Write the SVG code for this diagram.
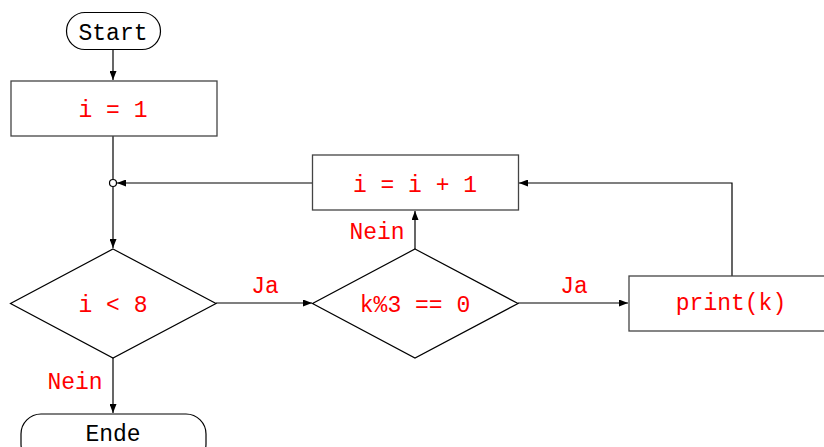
<svg xmlns="http://www.w3.org/2000/svg" width="824" height="447" viewBox="0 0 824 447">
<style>
.s{fill:#fff;stroke:#000;stroke-width:1.2}
.b{fill:#fff;stroke:#444;stroke-width:1.3}
.t{font-family:"Liberation Mono","DejaVu Sans Mono",monospace;font-size:23px;text-anchor:middle}
.r{fill:#ff0000}
.k{fill:#000}
.c{fill:none;stroke:#000;stroke-width:1.2}
</style>
<defs>
<marker id="ah" markerWidth="9" markerHeight="7" refX="9" refY="3.5" orient="auto" markerUnits="userSpaceOnUse">
<path d="M0,0 L9,3.5 L0,7 Z" fill="#000"/>
</marker>
</defs>
<g id="connectors">
<path class="c" d="M113,50 V80" marker-end="url(#ah)"/>
<path class="c" d="M113,136 V179"/>
<path class="c" d="M113,187 V248" marker-end="url(#ah)"/>
<path class="c" d="M113,358 V413" marker-end="url(#ah)"/>
<path class="c" d="M216,303 H312" marker-end="url(#ah)"/>
<path class="c" d="M415,249 V211" marker-end="url(#ah)"/>
<path class="c" d="M518,303 H628" marker-end="url(#ah)"/>
<path class="c" d="M732,276 V183 H519" marker-end="url(#ah)"/>
<path class="c" d="M312,183 H117" marker-end="url(#ah)"/>
<circle cx="113" cy="183" r="3.5" fill="#fff" stroke="#000" stroke-width="1.2"/>
<text class="t r" x="75" y="389">Nein</text>
<text class="t r" x="265" y="293">Ja</text>
<text class="t r" x="377" y="239">Nein</text>
<text class="t r" x="574" y="293">Ja</text>
</g>
<g id="start">
<rect class="s" x="66.5" y="12.5" width="94" height="37" rx="18.5"/>
<text class="t k" x="113" y="40">Start</text>
</g>
<g id="init">
<rect class="b" x="11" y="81" width="206" height="55"/>
<text class="t r" x="113" y="117">i = 1</text>
</g>
<g id="cond1">
<path class="s" d="M113,249 L216,303.5 L113,358 L10.5,303.5 Z"/>
<text class="t r" x="113" y="312">i &lt; 8</text>
</g>
<g id="cond2">
<path class="s" d="M415,249 L518,303.5 L415,358 L312.5,303.5 Z"/>
<text class="t r" x="415" y="312">k%3 == 0</text>
</g>
<g id="incr">
<rect class="b" x="312.5" y="155" width="206" height="55"/>
<text class="t r" x="415" y="192">i = i + 1</text>
</g>
<g id="print">
<rect class="b" x="629" y="276" width="204" height="55"/>
<text class="t r" x="731" y="310">print(k)</text>
</g>
<g id="end">
<rect class="s" x="21" y="414" width="185" height="50" rx="20"/>
<text class="t k" x="113" y="441">Ende</text>
</g>
</svg>
